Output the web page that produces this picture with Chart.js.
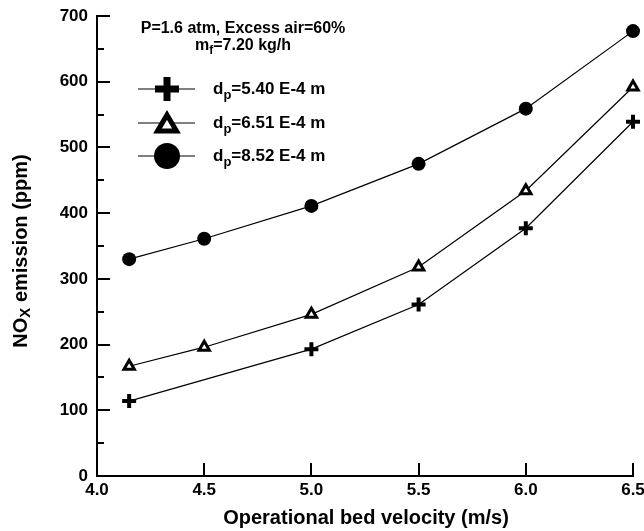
<!DOCTYPE html>
<html><head><meta charset="utf-8">
<script src="https://cdn.jsdelivr.net/npm/chart.js@4/dist/chart.umd.min.js"></script>
<style>html,body{margin:0;padding:0;background:#fff}#wrap{width:644px;height:531px}</style>
</head><body><div id="wrap"><canvas id="c" width="644" height="531"></canvas></div>
<script>
const xTicks = [4.0, 4.5, 5.0, 5.5, 6.0, 6.5];
const yTicks = [0, 100, 200, 300, 400, 500, 600, 700];
const velPlus = [4.15, 5.0, 5.5, 6.0, 6.5];
const noxPlus = [114, 193, 261, 377, 539];
const velTri = [4.15, 4.5, 5.0, 5.5, 6.0, 6.5];
const noxTri = [167, 196, 246, 318, 434, 592];
const velCirc = [4.15, 4.5, 5.0, 5.5, 6.0, 6.5];
const noxCirc = [330, 361, 411, 475, 559, 677];
const seriesNames = ['5.40 E-4 m', '6.51 E-4 m', '8.52 E-4 m'];
const FONT = "'Liberation Sans', Arial, sans-serif";

function pts(xs, ys){ return xs.map((x,i)=>({x:x, y:ys[i]})); }

const overlay = {
  id: 'overlay',
  afterDraw(chart){
    const ctx = chart.ctx, xs = chart.scales.x, ys = chart.scales.y;
    const a = chart.chartArea;
    ctx.save();
    ctx.strokeStyle = '#000'; ctx.lineWidth = 2;
    for (let v = 0; v <= 700; v += 50){
      const py = Math.round(ys.getPixelForValue(v));
      const len = (v % 100 === 0) ? 13 : 7;
      ctx.beginPath(); ctx.moveTo(a.left, py); ctx.lineTo(a.left + len, py); ctx.stroke();
    }
    xTicks.forEach(v=>{
      const px = Math.round(xs.getPixelForValue(v));
      ctx.beginPath(); ctx.moveTo(px, a.bottom); ctx.lineTo(px, a.bottom - 13); ctx.stroke();
    });
    ctx.fillStyle = '#000';
    ctx.font = 'bold 20px ' + FONT;
    ctx.textAlign = 'center'; ctx.textBaseline = 'middle';
    ctx.fillText('Operational bed velocity (m/s)', 366, 518);
    ctx.save();
    ctx.translate(21, 251); ctx.rotate(-Math.PI/2);
    const p1 = 'NO', p2 = 'X', p3 = ' emission (ppm)';
    ctx.font = 'bold 20px ' + FONT; const w1 = ctx.measureText(p1).width, w3 = ctx.measureText(p3).width;
    ctx.font = 'bold 15px ' + FONT; const w2 = ctx.measureText(p2).width;
    let sx = -(w1 + w2 + w3)/2;
    ctx.textAlign = 'left';
    ctx.font = 'bold 20px ' + FONT; ctx.fillText(p1, sx, 0); sx += w1;
    ctx.font = 'bold 15px ' + FONT; ctx.fillText(p2, sx, 5); sx += w2;
    ctx.font = 'bold 20px ' + FONT; ctx.fillText(p3, sx, 0);
    ctx.restore();
    ctx.font = 'bold 16px ' + FONT; ctx.textAlign = 'center';
    ctx.fillText('P=1.6 atm, Excess air=60%', 243, 29);
    {
      const a1 = 'm', a2 = 'f', a3 = '=7.20 kg/h';
      ctx.font = 'bold 16px ' + FONT; const q1 = ctx.measureText(a1).width, q3 = ctx.measureText(a3).width;
      ctx.font = 'bold 12px ' + FONT; const q2 = ctx.measureText(a2).width;
      let x0 = 243 - (q1+q2+q3)/2; ctx.textAlign = 'left';
      ctx.font = 'bold 16px ' + FONT; ctx.fillText(a1, x0, 46); x0 += q1;
      ctx.font = 'bold 12px ' + FONT; ctx.fillText(a2, x0, 51); x0 += q2;
      ctx.font = 'bold 16px ' + FONT; ctx.fillText(a3, x0, 46);
    }
    const rows = [89, 123, 156];
    rows.forEach((ry, i)=>{
      ctx.strokeStyle = '#000'; ctx.lineWidth = 1.2;
      ctx.beginPath(); ctx.moveTo(138, ry); ctx.lineTo(195, ry); ctx.stroke();
      const cx = 167;
      if (i === 0){
        ctx.lineWidth = 7; ctx.lineCap = 'butt';
        ctx.beginPath(); ctx.moveTo(cx-12, ry); ctx.lineTo(cx+12, ry); ctx.moveTo(cx, ry-12); ctx.lineTo(cx, ry+12); ctx.stroke();
      } else if (i === 1){
        ctx.lineWidth = 5; ctx.lineJoin = 'miter'; ctx.fillStyle = '#fff';
        ctx.beginPath(); ctx.moveTo(cx, ry-8); ctx.lineTo(cx+9.5, ry+8); ctx.lineTo(cx-9.5, ry+8); ctx.closePath(); ctx.fill(); ctx.stroke();
        ctx.fillStyle = '#000';
      } else {
        ctx.beginPath(); ctx.arc(cx, ry, 13, 0, Math.PI*2); ctx.fill();
      }
      ctx.textAlign = 'left'; ctx.textBaseline = 'middle';
      let tx = 213;
      ctx.font = 'bold 17px ' + FONT; ctx.fillText('d', tx, ry); tx += ctx.measureText('d').width;
      ctx.font = 'bold 13px ' + FONT; ctx.fillText('p', tx, ry + 6); tx += ctx.measureText('p').width;
      ctx.font = 'bold 17px ' + FONT; ctx.fillText('=' + seriesNames[i], tx, ry);
    });
    ctx.restore();
  }
};

new Chart(document.getElementById('c'), {
  type: 'scatter',
  data: {
    datasets: [
      { label: 'dp=' + seriesNames[0], data: pts(velPlus, noxPlus), showLine: true, borderColor: '#000', borderWidth: 1.2,
        pointStyle: 'cross', pointRadius: 7, pointBorderWidth: 4, pointBorderColor: '#000', pointBackgroundColor: '#000', clip: false },
      { label: 'dp=' + seriesNames[1], data: pts(velTri, noxTri), showLine: true, borderColor: '#000', borderWidth: 1.2,
        pointStyle: 'triangle', pointRadius: 6, pointBorderWidth: 3, pointBorderColor: '#000', pointBackgroundColor: '#fff', clip: false },
      { label: 'dp=' + seriesNames[2], data: pts(velCirc, noxCirc), showLine: true, borderColor: '#000', borderWidth: 1.2,
        pointStyle: 'circle', pointRadius: 7, pointBorderWidth: 0, pointBorderColor: '#000', pointBackgroundColor: '#000', clip: false }
    ]
  },
  options: {
    responsive: false, animation: false, devicePixelRatio: 1,
    layout: { padding: { left: 0, right: 10, top: 16, bottom: 0 } },
    plugins: { legend: { display: false }, tooltip: { enabled: false } },
    scales: {
      x: { type: 'linear', min: 4, max: 6.5,
        afterBuildTicks: s => { s.ticks = xTicks.map(v => ({ value: v })); },
        afterFit: s => { s.height = 55; s.paddingLeft = 0; s.paddingRight = 0; },
        ticks: { color: '#000', font: { family: FONT, size: 17, weight: 'bold' }, padding: 4, maxRotation: 0,
          callback: v => Number(v).toFixed(1) },
        grid: { display: true, drawOnChartArea: false, drawTicks: false },
        border: { display: true, color: '#000', width: 2 } },
      y: { type: 'linear', min: 0, max: 700,
        afterBuildTicks: s => { s.ticks = yTicks.map(v => ({ value: v })); },
        afterFit: s => { s.width = 97; s.paddingTop = 0; },
        ticks: { color: '#000', font: { family: FONT, size: 17, weight: 'bold' }, padding: 9 },
        grid: { display: true, drawOnChartArea: false, drawTicks: false },
        border: { display: true, color: '#000', width: 2 } }
    }
  },
  plugins: [overlay]
});
</script></body></html>
